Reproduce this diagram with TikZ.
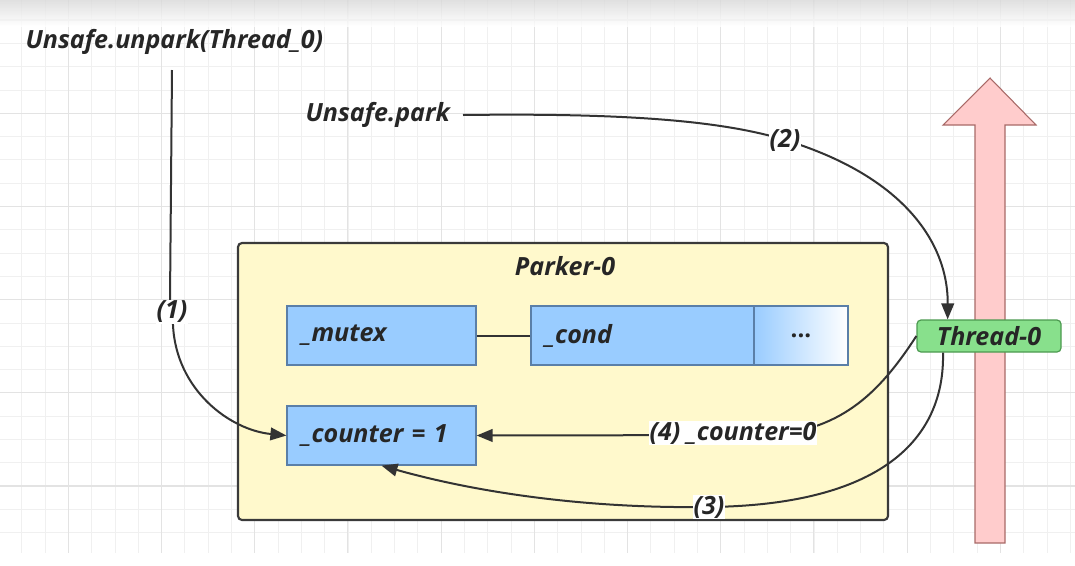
\documentclass[tikz,border=0pt]{standalone}
\usepackage{fontspec}
\setmainfont{Open Sans}
\usetikzlibrary{arrows.meta}
\definecolor{gridminor}{HTML}{F0F0F0}
\definecolor{gridmajor}{HTML}{E3E3E3}
\definecolor{lineclr}{HTML}{333333}
\definecolor{boxblue}{HTML}{99CCFF}
\definecolor{boxblueb}{HTML}{5A7FA8}
\definecolor{parkerfill}{HTML}{FFF9CC}
\definecolor{parkerdraw}{HTML}{3A3A3A}
\definecolor{thrfill}{HTML}{88E08C}
\definecolor{thrdraw}{HTML}{4C9A50}
\definecolor{pinkfill}{HTML}{FFCCCC}
\definecolor{pinkdraw}{HTML}{A86A68}
\tikzset{
  lbl/.style={font=\fontsize{18.8}{22}\selectfont\bfseries\itshape, text=black!85, inner sep=1pt},
  small/.style={font=\fontsize{18.8}{22}\selectfont\bfseries\itshape, text=black!85, fill=white, inner sep=0.5pt},
  field/.style={draw=boxblueb, line width=0.9pt, fill=boxblue, minimum height=44.25pt, inner sep=0pt,
    font=\fontsize{18.8}{22}\selectfont\bfseries\itshape, text=black!85},
  conn/.style={draw=lineclr, line width=1.5pt, -{Triangle[length=12pt,width=9.5pt]}},
  plain/.style={draw=lineclr, line width=1.5pt},
}
\begin{document}
\begin{tikzpicture}[x=0.75pt,y=-0.75pt]
\useasboundingbox (0,0) rectangle (1075,565);
\fill[white] (0,0) rectangle (1075,565);
% grid
\foreach \i in {-3,...,44} {
  \draw[gridminor, line width=0.6pt] ({68.3+23.3*\i},0) -- ({68.3+23.3*\i},553);
}
\foreach \j in {-1,...,22} {
  \draw[gridminor, line width=0.6pt] (0,{20+23.3*\j}) -- (1075,{20+23.3*\j});
}
\foreach \i in {-1,...,11} {
  \draw[gridmajor, line width=0.8pt] ({68.3+93.2*\i},0) -- ({68.3+93.2*\i},553);
}
\foreach \j in {0,...,5} {
  \draw[gridmajor, line width=0.8pt] (0,{20+93.2*\j}) -- (1075,{20+93.2*\j});
}
\shade[top color=black!15, bottom color=white, opacity=0.8] (0,0) rectangle (1075,26);

% pink arrow
\draw[pinkdraw, fill=pinkfill, line width=0.8pt]
  (975,543) -- (975,125) -- (943,125) -- (990,78) -- (1036,125) -- (1005,125) -- (1005,543) -- cycle;

% Parker box
\node[draw=parkerdraw, line width=1.6pt, fill=parkerfill, rounded corners=3pt,
  minimum width=487.5pt, minimum height=207.75pt, inner sep=0pt] (parker) at (563,381.5) {};
\node[lbl] (ptitle) at (565,266) {Parker-0};

\node[field, minimum width=141.75pt, text width=120pt, align=left] (mutex) at (381.5,335.5) {\_mutex};
\node[field, minimum width=167.25pt, text width=146pt, align=left] (cond) at (642.5,335.5) {\_cond};
\node[draw=boxblueb, line width=0.9pt, left color=boxblue, right color=white, minimum width=70.5pt,
  minimum height=44.25pt, inner sep=0pt, font=\fontsize{18}{20}\selectfont\bfseries, text=black!85] (dots) at (801,335.5) {...};
\node[field, minimum width=141.75pt, text width=120pt, align=left] (counter) at (381.5,435.5) {\_counter = 1};
\draw[plain] (mutex.east) -- (cond.west);

% Thread-0
\node[draw=thrdraw, line width=0.9pt, fill=thrfill, rounded corners=3pt, minimum width=108pt,
  minimum height=24pt, inner sep=0pt, font=\fontsize{18.8}{22}\selectfont\bfseries\itshape, text=black!85] (thread) at (989,336) {Thread-0};

% top labels
\node[lbl, anchor=west] (unpark) at (24,42) {Unsafe.unpark(Thread\_0)};
\node[lbl, anchor=west] (park) at (304,115) {Unsafe.park};
\coordinate (p1) at (172,70);
\coordinate (p2) at (463,115);

% (1)
\draw[conn] (p1) -- (170,300) -- (172,312) node[small] {(1)} -- (173,325) .. controls (176,390) and (230,430) .. (counter.west);
% (2)
\draw[conn] (p2) .. controls (620,113) and (720,120) .. (785,140)
  node[small] {(2)} .. controls (900,175) and (948,240) .. ([xshift=-31pt]thread.north);
% (4)
\draw[conn] (thread.west) .. controls (880,392) and (840,434) .. (760,435) -- (counter.east);
\node[small] (l4) at (733,433) {(4) \_counter=0};
% (3)
\draw[conn] ([xshift=-34.5pt]thread.south) .. controls (945,440) and (880,505) .. (709,507)
  .. controls (560,509) and (450,485) .. (counter.south);
\node[small] (l3) at (709,507) {(3)};
\end{tikzpicture}
\end{document}
